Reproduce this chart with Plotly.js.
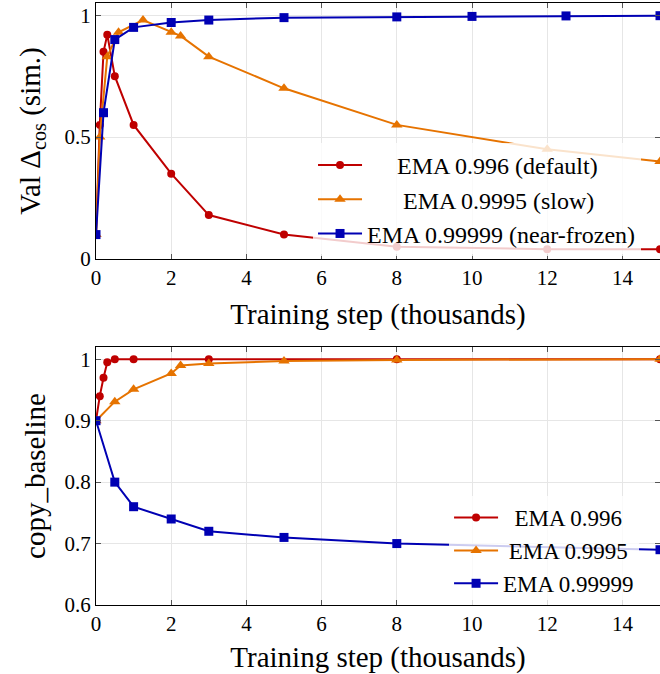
<!DOCTYPE html>
<html>
<head>
<meta charset="utf-8">
<script src="https://cdn.plot.ly/plotly-3.0.1.min.js"></script>
<style>
html,body{margin:0;padding:0;overflow:hidden;background:#fff;}
#chart{width:660px;height:674px;}
</style>
</head>
<body>
<div id="chart"></div>
<script>
// ---- Data (top panel: Val Δcos) ----
const topRedX = [0, 0.1, 0.2, 0.3, 0.5, 1, 2, 3, 5, 8, 12, 15];
const topRedY = [0.1, 0.55, 0.85, 0.92, 0.75, 0.55, 0.35, 0.18, 0.10, 0.05, 0.04, 0.04];
const topOrangeX = [0, 0.1, 0.3, 0.6, 1.25, 2, 2.25, 3, 5, 8, 12, 15];
const topOrangeY = [0.1, 0.5, 0.83, 0.93, 0.98, 0.93, 0.915, 0.83, 0.70, 0.55, 0.45, 0.40];
const topBlueX = [0, 0.2, 0.5, 1, 2, 3, 5, 8, 10, 12.5, 15];
const topBlueY = [0.1, 0.6, 0.9, 0.95, 0.97, 0.98, 0.99, 0.993, 0.995, 0.997, 0.998];

// ---- Data (bottom panel: copy_baseline) ----
const botRedX = [0, 0.1, 0.2, 0.3, 0.5, 1, 3, 8, 15];
const botRedY = [0.9, 0.94, 0.97, 0.995, 1.0, 1.0, 1.0, 1.0, 1.0];
const botOrangeX = [0, 0.5, 1, 2, 2.25, 3, 5, 8, 15];
const botOrangeY = [0.9, 0.931, 0.951, 0.977, 0.99, 0.993, 0.997, 0.999, 1.0];
const botBlueX = [0, 0.5, 1, 2, 3, 5, 8, 15];
const botBlueY = [0.9, 0.80, 0.76, 0.74, 0.72, 0.71, 0.70, 0.69];

const topNames = ["EMA 0.996 (default)", "EMA 0.9995 (slow)", "EMA 0.99999 (near-frozen)"];
const botNames = ["EMA 0.996", "EMA 0.9995", "EMA 0.99999"];

const RED = '#bf0000', ORANGE = '#e67300', BLUE = '#0000b3';
const FONT = '"Liberation Serif", "Times New Roman", serif';
const NB = '\u00A0';

function tr(x, y, name, color, symbol, size, xa, ya, legend) {
  return {
    x: x, y: y, name: name, type: 'scatter', mode: 'lines+markers',
    xaxis: xa, yaxis: ya, legend: legend,
    line: {color: color, width: 2},
    marker: {color: color, symbol: symbol, size: size}
  };
}

const data = [
  tr(topRedX, topRedY, NB.repeat(5) + topNames[0], RED, 'circle', 8, 'x', 'y', 'legend'),
  tr(topOrangeX, topOrangeY, NB.repeat(6) + topNames[1], ORANGE, 'triangle-up', 10, 'x', 'y', 'legend'),
  tr(topBlueX, topBlueY, topNames[2], BLUE, 'square', 9, 'x', 'y', 'legend'),
  tr(botRedX, botRedY, NB.repeat(2) + botNames[0], RED, 'circle', 8, 'x2', 'y2', 'legend2'),
  tr(botOrangeX, botOrangeY, NB.repeat(1) + botNames[1], ORANGE, 'triangle-up', 10, 'x2', 'y2', 'legend2'),
  tr(botBlueX, botBlueY, botNames[2], BLUE, 'square', 9, 'x2', 'y2', 'legend2')
];

const axBase = {
  showline: true, linecolor: '#000', linewidth: 1, mirror: 'ticks',
  ticks: 'inside', ticklen: 5, tickcolor: '#555', tickwidth: 1,
  showgrid: true, gridcolor: '#e6e6e6', gridwidth: 1, zeroline: false,
  tickfont: {family: FONT, size: 21, color: '#000'}
};

const xTitle = 'Training step (thousands)';
const TITLE_SIZE = 29;

const layout = {
  width: 660, height: 674,
  margin: {l: 96, r: 0, t: 3, b: 69},
  paper_bgcolor: '#fff', plot_bgcolor: '#fff',
  font: {family: FONT, color: '#000'},
  showlegend: true,
  xaxis: Object.assign({}, axBase, {
    domain: [0, 1], anchor: 'y', range: [0, 15], tick0: 0, dtick: 2,
    title: {text: xTitle, font: {family: FONT, size: TITLE_SIZE}, standoff: 14}
  }),
  yaxis: Object.assign({}, axBase, {
    domain: [0.5748, 1], anchor: 'x', range: [0, 1.05], tick0: 0, dtick: 0.5,
    title: {text: 'Val Δ<sub>cos</sub> (sim.)', font: {family: FONT, size: TITLE_SIZE}, standoff: 15}
  }),
  xaxis2: Object.assign({}, axBase, {
    domain: [0, 1], anchor: 'y2', range: [0, 15], tick0: 0, dtick: 2,
    title: {text: xTitle, font: {family: FONT, size: TITLE_SIZE}, standoff: 16}
  }),
  yaxis2: Object.assign({}, axBase, {
    domain: [0, 0.4286], anchor: 'x2', range: [0.6, 1.02], tick0: 0.6, dtick: 0.1,
    title: {text: 'copy_baseline', font: {family: FONT, size: TITLE_SIZE}, standoff: 10}
  }),
  legend: {
    x: 0.3848, y: 0.7675, xanchor: 'left', yanchor: 'top',
    bgcolor: 'rgba(255,255,255,0.8)', borderwidth: 0,
    font: {family: FONT, size: 24, color: '#000'},
    itemwidth: 44, tracegroupgap: 0
  },
  legend2: {
    x: 0.626, y: 0.181, xanchor: 'left', yanchor: 'top',
    bgcolor: 'rgba(255,255,255,0.8)', borderwidth: 0,
    font: {family: FONT, size: 23, color: '#000'},
    itemwidth: 44, tracegroupgap: 0
  }
};

Plotly.newPlot('chart', data, layout, {displayModeBar: false, staticPlot: true});
</script>
</body>
</html>
